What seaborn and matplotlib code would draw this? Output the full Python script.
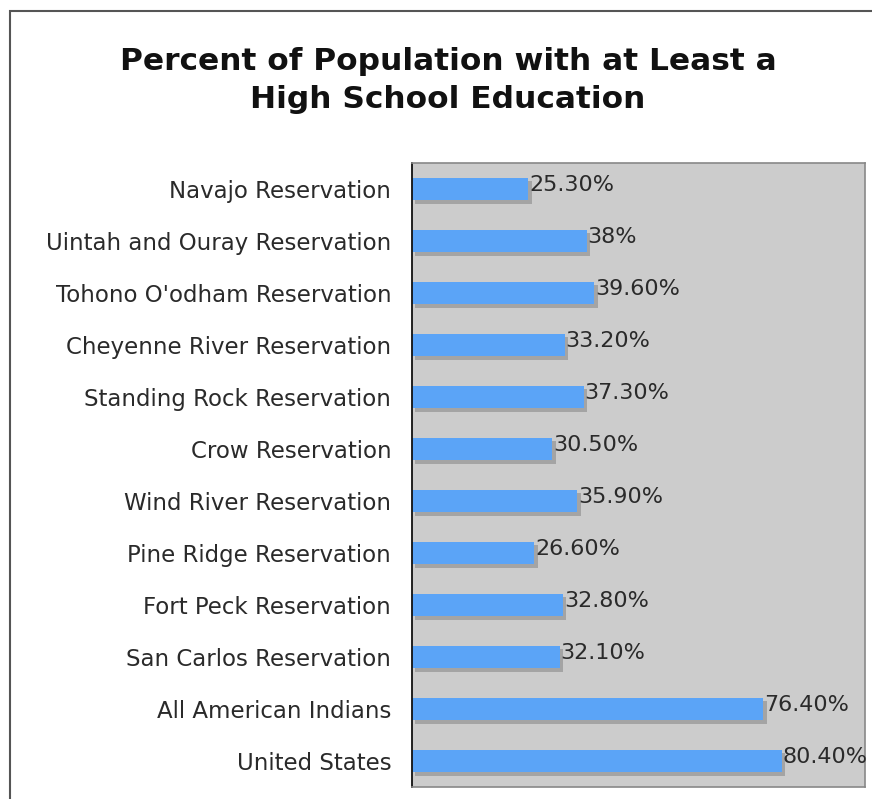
import matplotlib
matplotlib.use("Agg")
import matplotlib.pyplot as plt
import matplotlib.patheffects as pe
from matplotlib.patches import Rectangle
import seaborn as sns
import pandas as pd

categories = ["Navajo Reservation", "Uintah and Ouray Reservation", "Tohono O'odham Reservation",
              "Cheyenne River Reservation", "Standing Rock Reservation", "Crow Reservation",
              "Wind River Reservation", "Pine Ridge Reservation", "Fort Peck Reservation",
              "San Carlos Reservation", "All American Indians", "United States"]
values = [25.3, 38.0, 39.6, 33.2, 37.3, 30.5, 35.9, 26.6, 32.8, 32.1, 76.4, 80.4]
value_labels = ["25.30%", "38%", "39.60%", "33.20%", "37.30%", "30.50%", "35.90%",
                "26.60%", "32.80%", "32.10%", "76.40%", "80.40%"]

df = pd.DataFrame({"category": categories, "value": values})

sns.set_style("white")
plt.rcParams["font.family"] = ["DejaVu Sans"]

fig = plt.figure(figsize=(8.72, 7.99), dpi=100)
ax = fig.add_axes([412/872, 1-787/799, (865-412)/872, (787-163)/799])

sns.barplot(data=df, x="value", y="category", order=categories, color="#5BA4F7",
            saturation=1, width=0.44, ax=ax, orient="h")
for p in ax.patches:
    p.set_path_effects([pe.SimplePatchShadow(offset=(2.5, -2.5), shadow_rgbFace="#A4A4A4", alpha=1.0),
                        pe.Normal()])
    p.set_edgecolor("none")

ax.set_facecolor("#CCCCCC")
ax.set_xlim(0, 98.5)
ax.set_ylim(len(categories) - 0.5, -0.5)
ax.set_xticks([])
ax.set_xlabel("")
ax.set_ylabel("")

for i, (v, lab) in enumerate(zip(values, value_labels)):
    ax.text(v + 0.2, i - 0.08, lab, va="center", ha="left", fontsize=16, color="#2a2a2a")

ax.set_yticks(range(len(categories)))
ax.set_yticklabels(categories, fontsize=16.5, color="#2a2a2a")
ax.tick_params(axis="y", length=0, pad=15)
# boundary tick marks
ax.set_yticks([i - 0.5 for i in range(len(categories) + 1)], minor=True)
ax.tick_params(axis="y", which="minor", length=7, width=1.2, color="#111111", direction="out")

for s in ["top", "right", "bottom"]:
    ax.spines[s].set_color("#888888")
    ax.spines[s].set_linewidth(1.2)
ax.spines["left"].set_color("#111111")
ax.spines["left"].set_linewidth(1.3)

fig.text(448/872, 1-62/799, "Percent of Population with at Least a", ha="center", va="center",
         fontsize=22.5, fontweight="bold", color="#111111")
fig.text(448/872, 1-100/799, "High School Education", ha="center", va="center",
         fontsize=22.5, fontweight="bold", color="#111111")

fig.patches.append(Rectangle((10/872, -0.05), 1.0, 1 - 11/799 + 0.05, transform=fig.transFigure,
                             fill=False, edgecolor="#555555", linewidth=1.5))

fig.savefig("out.png", dpi=100)
